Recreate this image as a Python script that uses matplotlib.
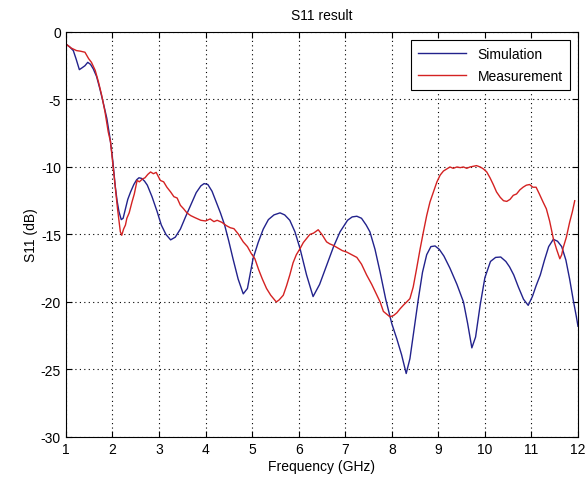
import matplotlib
matplotlib.use("Agg")
import matplotlib.pyplot as plt

plt.rcParams["font.family"] = ["Liberation Sans", "DejaVu Sans"]
plt.rcParams["font.size"] = 10
plt.rcParams["axes.unicode_minus"] = False

# simulated S11 (GHz, dB)
sim_freq = [1.0, 1.08, 1.16, 1.22, 1.29, 1.35, 1.41, 1.47, 1.53, 1.59, 1.66, 1.73,
            1.80, 1.88, 1.95, 2.01, 2.06, 2.10, 2.14, 2.19, 2.23, 2.28, 2.33, 2.39,
            2.46, 2.52, 2.57, 2.63, 2.69, 2.75, 2.85, 2.96, 3.05, 3.15, 3.25, 3.35,
            3.46, 3.57, 3.68, 3.80, 3.90, 3.97, 4.05, 4.14, 4.23, 4.32, 4.41, 4.50,
            4.59, 4.70, 4.81, 4.90, 5.02, 5.13, 5.24, 5.35, 5.47, 5.60, 5.70, 5.81,
            5.92, 6.03, 6.17, 6.31, 6.45, 6.60, 6.75, 6.89, 7.05, 7.15, 7.25, 7.35,
            7.45, 7.53, 7.64, 7.75, 7.87, 8.00, 8.11, 8.21, 8.31, 8.39, 8.47, 8.57,
            8.66, 8.75, 8.84, 8.93, 9.02, 9.12, 9.25, 9.40, 9.54, 9.63, 9.72, 9.80,
            9.90, 10.00, 10.12, 10.23, 10.34, 10.45, 10.53, 10.62, 10.72, 10.83,
            10.93, 11.02, 11.10, 11.19, 11.28, 11.37, 11.47, 11.56, 11.65, 11.74,
            11.82, 11.90, 11.96, 12.0]
sim_s11 = [-0.89, -1.1, -1.38, -2.0, -2.79, -2.65, -2.5, -2.25, -2.4, -2.74, -3.3, -4.2,
           -5.2, -6.4, -7.9, -9.6, -11.4, -12.5, -13.3, -13.9, -13.8, -13.1, -12.4, -11.85,
           -11.3, -10.95, -10.8, -10.85, -11.05, -11.35, -12.2, -13.3, -14.3, -15.0, -15.4, -15.2,
           -14.6, -13.7, -12.84, -11.9, -11.4, -11.23, -11.3, -11.8, -12.6, -13.4, -14.3, -15.5,
           -16.8, -18.3, -19.4, -19.0, -16.8, -15.6, -14.6, -13.9, -13.55, -13.4, -13.55, -13.95,
           -14.8, -16.05, -18.0, -19.6, -18.7, -17.3, -15.9, -14.8, -13.95, -13.7, -13.65, -13.8,
           -14.3, -14.8, -16.1, -17.8, -19.8, -21.6, -22.75, -23.9, -25.3, -24.2, -22.25, -19.8,
           -17.8, -16.5, -15.9, -15.85, -16.1, -16.6, -17.5, -18.7, -20.0, -21.6, -23.4, -22.6,
           -20.2, -18.2, -17.0, -16.7, -16.67, -17.0, -17.4, -18.0, -18.9, -19.8, -20.25, -19.6,
           -18.8, -18.0, -16.9, -15.9, -15.36, -15.5, -15.9, -16.9, -18.3, -19.9, -21.0, -21.8]

# measured S11 (GHz, dB)
meas_freq = [1.0, 1.12, 1.23, 1.31, 1.41, 1.49, 1.55, 1.63, 1.70, 1.77, 1.84, 1.91,
             1.96, 2.01, 2.06, 2.11, 2.17, 2.20, 2.24, 2.28, 2.31, 2.36, 2.42, 2.47,
             2.53, 2.58, 2.64, 2.70, 2.76, 2.82, 2.88, 2.94, 3.03, 3.10, 3.17, 3.25,
             3.32, 3.39, 3.46, 3.53, 3.60, 3.68, 3.77, 3.90, 4.00, 4.10, 4.18, 4.25,
             4.35, 4.45, 4.53, 4.61, 4.70, 4.81, 4.90, 4.98, 5.06, 5.14, 5.22, 5.31,
             5.40, 5.46, 5.52, 5.58, 5.67, 5.74, 5.81, 5.88, 5.95, 6.03, 6.10, 6.17,
             6.24, 6.32, 6.42, 6.50, 6.60, 6.67, 6.74, 6.84, 6.94, 7.03, 7.14, 7.25,
             7.35, 7.46, 7.57, 7.68, 7.75, 7.82, 7.89, 7.96, 8.04, 8.11, 8.18, 8.26,
             8.32, 8.39, 8.46, 8.53, 8.61, 8.68, 8.75, 8.82, 8.90, 8.97, 9.04, 9.11,
             9.18, 9.25, 9.32, 9.40, 9.47, 9.54, 9.61, 9.68, 9.75, 9.82, 9.90, 9.97,
             10.04, 10.11, 10.18, 10.25, 10.33, 10.40, 10.47, 10.54, 10.61, 10.68, 10.75,
             10.82, 10.89, 10.96, 11.03, 11.10, 11.17, 11.25, 11.32, 11.39, 11.47, 11.54,
             11.61, 11.65, 11.68, 11.75, 11.82, 11.88, 11.93]
meas_s11 = [-0.89, -1.2, -1.38, -1.42, -1.5, -1.98, -2.25, -2.84, -3.7, -4.7, -5.9, -7.4,
            -8.15, -9.8, -11.4, -13.1, -14.8, -15.06, -14.6, -14.3, -13.8, -13.4, -12.6, -12.0,
            -11.0, -11.1, -10.9, -10.8, -10.55, -10.37, -10.5, -10.4, -11.0, -11.1, -11.5, -11.85,
            -12.2, -12.3, -12.84, -13.1, -13.4, -13.6, -13.75, -13.95, -14.0, -13.85, -14.05, -13.95,
            -14.1, -14.35, -14.5, -14.57, -14.95, -15.55, -15.9, -16.4, -16.8, -17.6, -18.3, -19.0,
            -19.5, -19.75, -20.0, -19.85, -19.5, -18.8, -18.0, -17.1, -16.5, -16.05, -15.6, -15.3,
            -15.0, -14.9, -14.65, -15.0, -15.55, -15.7, -15.8, -16.0, -16.2, -16.3, -16.5, -16.7,
            -17.2, -18.0, -18.7, -19.5, -20.0, -20.7, -20.9, -21.1, -21.0, -20.8, -20.5, -20.2,
            -20.0, -19.75, -18.9, -17.6, -16.05, -14.8, -13.6, -12.6, -11.8, -11.1, -10.6, -10.3,
            -10.15, -10.0, -10.1, -10.0, -10.05, -10.0, -10.1, -10.0, -9.95, -9.9, -10.0, -10.15,
            -10.37, -10.8, -11.3, -11.85, -12.25, -12.5, -12.55, -12.4, -12.1, -12.0, -11.7,
            -11.5, -11.35, -11.3, -11.5, -11.5, -12.0, -12.6, -13.1, -14.0, -15.3, -16.1,
            -16.8, -16.5, -16.0, -15.2, -14.1, -13.3, -12.5]

fig = plt.figure(figsize=(5.88, 4.85), dpi=100)
ax = fig.add_axes([0.112, 0.097, 0.871, 0.835])

ax.plot(sim_freq, sim_s11, color="#22228c", lw=1.0, label="Simulation")
ax.plot(meas_freq, meas_s11, color="#d42222", lw=1.0, label="Measurement")

ax.set_xlim(1, 12)
ax.set_ylim(-30, 0)
ax.set_xticks(range(1, 13))
ax.set_yticks(range(-30, 1, 5))
ax.grid(True, color="black", linestyle=(0, (1, 3)), linewidth=0.8)
ax.tick_params(direction="in", top=True, right=True, length=4, width=0.8, labelsize=10)
for sp in ax.spines.values():
    sp.set_linewidth(0.8)

ax.set_title("S11 result", fontsize=10, pad=9)
ax.set_xlabel("Frequency (GHz)", labelpad=2)
ax.set_ylabel("S11 (dB)", labelpad=2)

leg = ax.legend(loc="upper right", fancybox=False, edgecolor="black", framealpha=1,
                handlelength=3.5, borderpad=0.5, labelspacing=0.55, fontsize=10,
                borderaxespad=0.6)
leg.get_frame().set_linewidth(0.8)

fig.savefig("out.png", dpi=100)
